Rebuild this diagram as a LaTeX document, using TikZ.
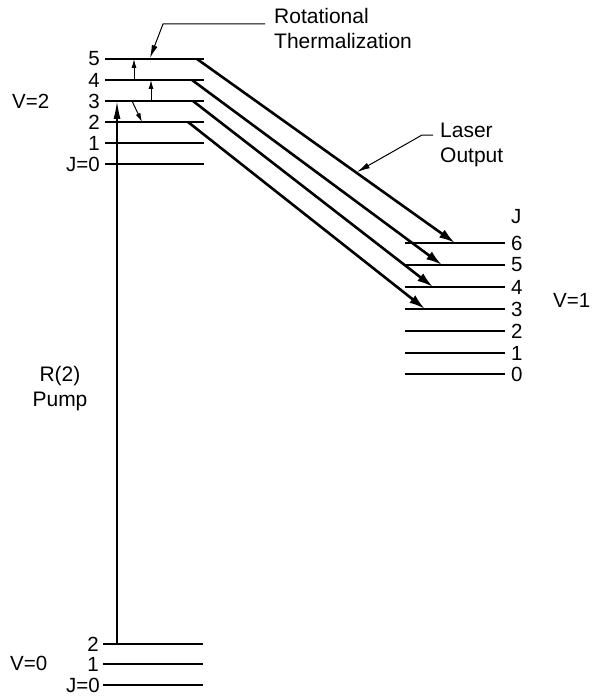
\documentclass[tikz,border=0pt]{standalone}
\usepackage{fontspec}
\setmainfont{Liberation Sans}
\usetikzlibrary{arrows.meta}
\begin{document}
\begin{tikzpicture}[x=1pt,y=-1pt,
  level/.style={line width=1.8pt},
  lbl/.style={font=\fontsize{20.5}{25}\selectfont, inner sep=0pt},
  txt/.style={font=\fontsize{21}{25}\selectfont, inner sep=0pt, align=left},
  laser/.style={line width=2.6pt,-{Latex[length=16pt,width=9.5pt]}},
  pump/.style={line width=1.6pt,-{Latex[length=18pt,width=7pt]}},
  small/.style={line width=1pt,-{Latex[length=9pt,width=5pt]}},
  leader/.style={line width=1pt,-{Latex[length=13pt,width=6pt]}},
]
\useasboundingbox[fill=white] (0,0) rectangle (593,698);

% V=2 levels
\foreach \J/\y in {5/59,4/80,3/101,2/122,1/143,0/164}{
  \coordinate (a\J l) at (105,\y);
  \coordinate (a\J r) at (204,\y);
  \draw[level] (a\J l) -- (a\J r);
}
\foreach \J/\y in {5/59,4/80,3/101,2/122,1/143}{
  \node[lbl,anchor=east] (na\J) at (100,\y) {\J};
}
\node[lbl,anchor=east] (na0) at (100,164) {J=0};
\node[lbl,anchor=west] (v2) at (12,101) {V=2};

% V=1 levels
\foreach \J/\y in {6/243,5/265,4/287,3/309,2/331,1/353,0/374}{
  \coordinate (b\J l) at (405,\y);
  \coordinate (b\J r) at (505,\y);
  \draw[level] (b\J l) -- (b\J r);
  \node[lbl,anchor=west] (nb\J) at (511,\y) {\J};
}
\node[lbl,anchor=west] (nbJ) at (511,217) {J};
\node[lbl,anchor=west] (v1) at (553,300) {V=1};

% V=0 levels
\foreach \J/\y in {2/644,1/664,0/685}{
  \coordinate (c\J l) at (103,\y);
  \coordinate (c\J r) at (203,\y);
  \draw[level] (c\J l) -- (c\J r);
}
\node[lbl,anchor=east] (nc2) at (99,644) {2};
\node[lbl,anchor=east] (nc1) at (99,664) {1};
\node[lbl,anchor=east] (nc0) at (100,685) {J=0};
\node[lbl,anchor=west] (v0) at (10,663) {V=0};

% pump
\coordinate (pb) at (117,644);
\coordinate (pt) at (117,101);
\draw[pump] (pb) -- (pt);
\node[txt,align=center] (pumplbl) at (60,389) {R(2)\\Pump};

% rotational thermalization small arrows
\coordinate (t1a) at (134,80);  \coordinate (t1b) at (134,59);
\coordinate (t2a) at (151,101); \coordinate (t2b) at (151,80);
\coordinate (t3a) at (132,101); \coordinate (t3b) at (142,122);
\draw[small] (t1a) -- (t1b);
\draw[small] (t2a) -- (t2b);
\draw[small] (t3a) -- (t3b);

% laser transitions
\coordinate (s5) at (197,59);  \coordinate (e6) at (455,243);
\coordinate (s4) at (192,80);  \coordinate (e5) at (442,265);
\coordinate (s3) at (193,101); \coordinate (e4) at (433,287);
\coordinate (s2) at (188,122); \coordinate (e3) at (425,309);
\draw[laser] (s5) -- (e6);
\draw[laser] (s4) -- (e5);
\draw[laser] (s3) -- (e4);
\draw[laser] (s2) -- (e3);

% labels with leaders
\node[txt,anchor=north west] (rot) at (274,8) {Rotational\\Thermalization};
\coordinate (r1) at (265,24);
\coordinate (r2) at (163,24);
\coordinate (r3) at (150,58);
\draw[leader] (r1) -- (r2) -- (r3);

\node[txt,anchor=north west] (las) at (440,123) {Laser\\Output};
\coordinate (l1) at (433,135);
\coordinate (l2) at (422,135);
\coordinate (l3) at (357,172);
\draw[leader] (l1) -- (l2) -- (l3);
\end{tikzpicture}
\end{document}
